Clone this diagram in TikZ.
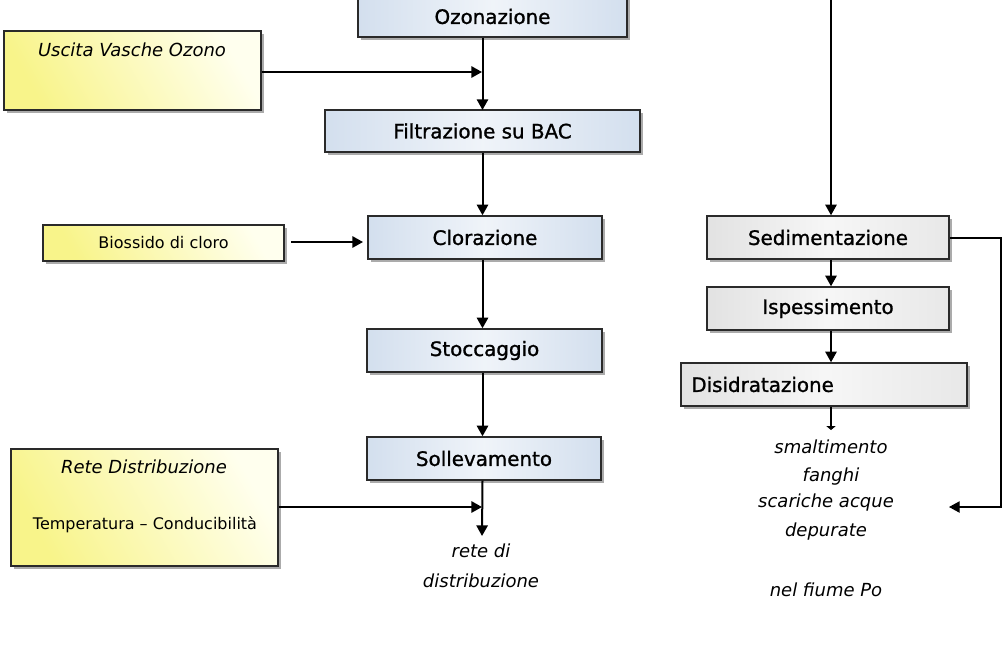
\documentclass[tikz,border=0pt]{standalone}
\usepackage{fontspec}
\setmainfont{DejaVu Sans}
\newfontfamily\boxfont[FakeBold=1.2]{DejaVu Sans}
\usetikzlibrary{arrows.meta,shadows}
\definecolor{bluebox}{HTML}{D3DFEE}
\definecolor{greybox}{HTML}{E2E2E2}
\definecolor{yelA}{HTML}{F8F48A}
\definecolor{yelB}{HTML}{FFFFEE}
\definecolor{edge}{HTML}{2A2A2A}
\tikzset{
  boxbase/.style={draw=edge, line width=1.1pt, inner sep=0pt,
    drop shadow={shadow xshift=2.6pt, shadow yshift=-2.6pt, fill=black!60, opacity=0.55},
    font=\boxfont\fontsize{14.9}{16}\selectfont},
  bluestep/.style={boxbase, left color=bluebox, right color=bluebox, middle color=bluebox!35},
  greystep/.style={boxbase, left color=greybox, right color=greybox!80, middle color=greybox!30},
  yelbox/.style={boxbase, left color=yelA, right color=yelB, shading angle=120},
  itxt/.style={font=\fontsize{13.5}{15}\selectfont\itshape, inner sep=0pt},
  ntxt/.style={font=\fontsize{12}{14}\selectfont, inner sep=0pt},
  arr/.style={line width=1.5pt, draw=black, -{Triangle[length=8pt,width=8.5pt]}},
  thinarr/.style={line width=1pt, draw=black, -{Triangle[length=8pt,width=8.5pt]}},
}
\begin{document}
\begin{tikzpicture}[x=0.75pt,y=-0.75pt]
\useasboundingbox (0,0) rectangle (1003,661);
% left column
\node[bluestep, minimum width=201.75pt, minimum height=30.75pt] (ozo) at (492.5,16.5) {Ozonazione};
\node[bluestep, minimum width=236.25pt, minimum height=31.5pt] (filt) at (482.5,131) {Filtrazione su BAC};
\node[bluestep, minimum width=175.5pt, minimum height=32.25pt] (clor) at (485,237.5) {Clorazione};
\node[bluestep, minimum width=176.25pt, minimum height=32.25pt] (stoc) at (484.5,350.5) {Stoccaggio};
\node[bluestep, minimum width=175.5pt, minimum height=32.25pt] (sol) at (484,458.5) {Sollevamento};
% yellow boxes
\node[yelbox, minimum width=192.75pt, minimum height=59.25pt] (usc) at (132.5,70.5) {};
\node[itxt] (usct) at (132,50) {Uscita Vasche Ozono};
\node[yelbox, minimum width=180.75pt, minimum height=27pt, font=\fontsize{12}{14}\selectfont] (bio) at (163.5,243) {Biossido di cloro};
\node[yelbox, minimum width=200.25pt, minimum height=87.75pt] (rete) at (144.5,507.5) {};
\node[itxt] (retet) at (144,467) {Rete Distribuzione};
\node[ntxt] (tempt) at (145,525) {Temperatura – Conducibilità};
% right column
\node[greystep, minimum width=181.5pt, minimum height=32.25pt] (sed) at (828,237.5) {Sedimentazione};
\node[greystep, minimum width=181.5pt, minimum height=32.25pt] (isp) at (828,308.5) {Ispessimento};
\node[greystep, minimum width=214.5pt, minimum height=32.25pt, text width=199pt, align=left] (dis) at (824,384.5) {Disidratazione};
% texts
\node[itxt] (rd1) at (481,551) {rete di};
\node[itxt] (rd2) at (481,581) {distribuzione};
\node[itxt] (sm1) at (831,447) {smaltimento};
\node[itxt] (sm2) at (831,477) {fanghi};
\node[itxt] (sc1) at (826,503) {scariche acque};
\node[itxt] (sc2) at (826,532) {depurate};
\node[itxt] (sc3) at (826,590) {nel fiume Po};
% coordinates
\coordinate (j1) at (482,72);
\coordinate (j2) at (482,507);
\coordinate (outl) at (482,536);
\coordinate (bioend) at (291,242);
\coordinate (clorin) at (363,242);
\coordinate (topr) at (831,-2);
\coordinate (disout) at (831,430);
\coordinate (r1) at (1001,238);
\coordinate (r2) at (1001,507);
\coordinate (r3) at (949,507);
% connectors left
\draw[arr] (filt.north |- ozo.south) -- ([yshift=-0.5pt]filt.north);
\draw[arr] (usc.east |- j1) -- (j1);
\draw[arr] (filt.south) -- (filt.south |- clor.north);
\draw[arr] (bioend) -- (clorin);
\draw[arr] (filt.south |- clor.south) -- (filt.south |- stoc.north);
\draw[arr] (filt.south |- stoc.south) -- (filt.south |- sol.north);
\draw[arr] (filt.south |- sol.south) -- (outl);
\draw[arr] (rete.east |- j2) -- (j2);
% connectors right
\draw[arr] (topr) -- (topr |- sed.north);
\draw[arr] (topr |- sed.south) -- (topr |- isp.north);
\draw[arr] (topr |- isp.south) -- (topr |- dis.north);
\draw[line width=1.5pt, -{Triangle[length=3pt,width=7pt]}] (topr |- dis.south) -- (disout);
\draw[thinarr] (sed.east |- r1) -- (r1) -- (r2) -- (r3);
\end{tikzpicture}
\end{document}
